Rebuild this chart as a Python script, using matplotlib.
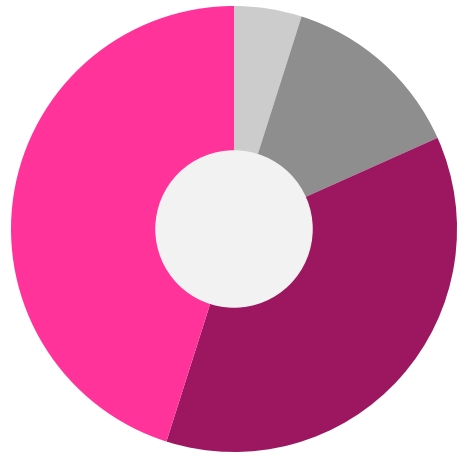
import numpy as np
import matplotlib.pyplot as plt

# Data
labels = ["A", "B", "C", "D"]
values = [4.9, 13.4, 36.6, 45.1]
colors = ["#cccccc", "#8e8e8e", "#9c1660", "#ff3399"]

fig = plt.figure(figsize=(4.68, 4.63), dpi=100)
ax = fig.add_axes([0, 0, 1, 1])

ax.pie(values, colors=colors, startangle=90, counterclock=False,
       radius=1.0, wedgeprops=dict(linewidth=0))
hole = plt.Circle((0, 0), 0.35, color="#f2f2f2", zorder=5)
ax.add_patch(hole)

# scale: 223 px per unit, center at (234, 229) from top-left
ax.set_xlim(-234 / 223, 234 / 223)
ax.set_ylim(-234 / 223, 229 / 223)
ax.set_aspect("auto")
ax.axis("off")

fig.savefig("out.png", dpi=100, facecolor="white")
